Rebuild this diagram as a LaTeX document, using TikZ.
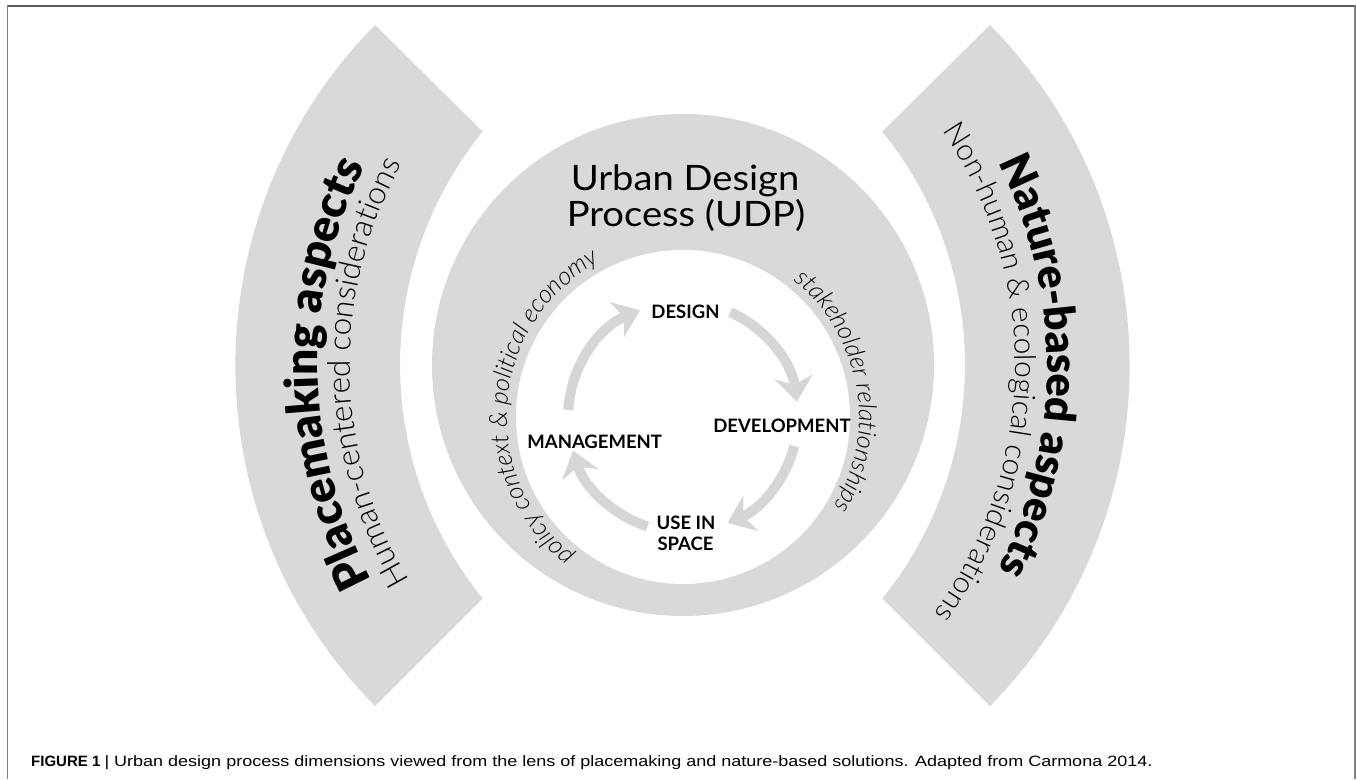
\documentclass[tikz,border=0pt]{standalone}
\usepackage{fontspec}
\setmainfont{Lato}
\IfFontExistsTF{Lato Black}{\newfontfamily\heavyfont{Lato Black}}{\newcommand\heavyfont{\bfseries}}
\IfFontExistsTF{Lato Light}{\newfontfamily\lightfont{Lato Light}}{\newcommand\lightfont{}}
\newfontfamily\ttlfont[FakeStretch=1.09]{Lato}
\newfontfamily\capfont{Liberation Sans}
\newfontfamily\capwide[FakeStretch=1.2]{Liberation Sans}
\usetikzlibrary{decorations.text, arrows.meta}
\definecolor{bandgray}{RGB}{217,217,217}
\definecolor{arrowgray}{RGB}{214,214,214}
\begin{document}
\begin{tikzpicture}[x=1pt,y=1pt,
  band/.style={fill=bandgray, draw=none},
  cyc/.style={draw=arrowgray, line width=10pt, -{Stealth[length=25pt,width=38pt,inset=8pt]}},
  lbl/.style={font=\bfseries\fontsize{18.5}{20}\selectfont, inner sep=0pt, anchor=base},
  ttl/.style={font=\ttlfont\fontsize{35}{36}\selectfont, inner sep=0pt, anchor=base},
]
\useasboundingbox (0,0) rectangle (1357,779);
% frame
\draw[line width=1.6pt, black!65] (7.5,773) -- (1355,773);
\draw[line width=1.6pt, black!50] (7.5,773.8) -- (7.5,0);
\draw[line width=1.6pt, black!50] (1355,773.8) -- (1355,0);
% bands
\fill[band] (375,754) arc[start angle=135.4, end angle=224.6, radius=485] -- (482.7,180.5) arc[start angle=219, end angle=141, radius=371] -- cycle;
\fill[band] (990,754) arc[start angle=44.6, end angle=-44.6, radius=485] -- (882.3,180.5) arc[start angle=-39, end angle=39, radius=371] -- cycle;
% central ring
\coordinate (ring) at (683,414);
\coordinate (cc) at (683,362);
\fill[band] (ring) circle[radius=251];
\fill[white] (cc) circle[radius=167];
% band texts
\coordinate (lc) at (769,413);
\coordinate (rc) at (596,413);
\path[decorate, decoration={text along path, text align=center,
  text={|\heavyfont\fontsize{46}{46}\selectfont|Placemaking aspects}}]
  ([shift={(241:451)}]lc) arc[start angle=241, end angle=121, radius=451];
\path[decorate, decoration={text along path, text align=center,
  text={|\lightfont\fontsize{31.5}{31.5}\selectfont|Human-centered considerations}}]
  ([shift={(241:419)}]lc) arc[start angle=241, end angle=121, radius=419];
\path[decorate, decoration={text along path, text align=center,
  text={|\heavyfont\fontsize{43}{43}\selectfont|Nature-based aspects}}]
  ([shift={(60:451)}]rc) arc[start angle=60, end angle=-60, radius=451];
\path[decorate, decoration={text along path, text align=center,
  text={|\lightfont\fontsize{30}{30}\selectfont|Non-human {\&} ecological considerations}}]
  ([shift={(59:419)}]rc) arc[start angle=59, end angle=-61, radius=419];
% ring texts
\path[decorate, decoration={text along path, text align=center,
  text={|\lightfont\itshape\fontsize{25}{25}\selectfont|policy context {\&} political economy}}]
  ([shift={(245:176)}]cc) arc[start angle=245, end angle=105, radius=176];
\path[decorate, decoration={text along path, text align=center,
  text={|\lightfont\itshape\fontsize{25}{25}\selectfont|stakeholder relationships}}]
  ([shift={(78:176)}]cc) arc[start angle=78, end angle=-58, radius=176];
% title
\node[ttl] (t1) at (685,588) {Urban Design};
\node[ttl] (t2) at (686,552) {Process (UDP)};
% cycle labels
\node[lbl] (des) at (685.5,460.7) {DESIGN};
\node[lbl] (dev) at (782,346.3) {DEVELOPMENT};
\node[lbl] (mgmt) at (594.7,330) {MANAGEMENT};
\node[lbl] (use1) at (686,249.7) {USE IN};
\node[lbl] (use2) at (685.5,228.3) {SPACE};
% cycle arrows
\draw[cyc] ([shift={(176.5:115)}]cc) arc[start angle=176.5, end angle=112, radius=115];
\draw[cyc] ([shift={(65.7:115)}]cc) arc[start angle=65.7, end angle=7.6, radius=115];
\draw[cyc] ([shift={(-14.6:115)}]cc) arc[start angle=-14.6, end angle=-67.2, radius=115];
\draw[cyc] ([shift={(252:115)}]cc) arc[start angle=252, end angle=197, radius=115];
% caption
\node[anchor=base west, inner sep=0pt] (cap) at (31,12.3) {\fontsize{15}{15}\selectfont\capfont\textbf{FIGURE 1} \capwide| Urban design process dimensions viewed from the lens of placemaking and nature-based solutions. Adapted from Carmona 2014.};
\end{tikzpicture}
\end{document}
